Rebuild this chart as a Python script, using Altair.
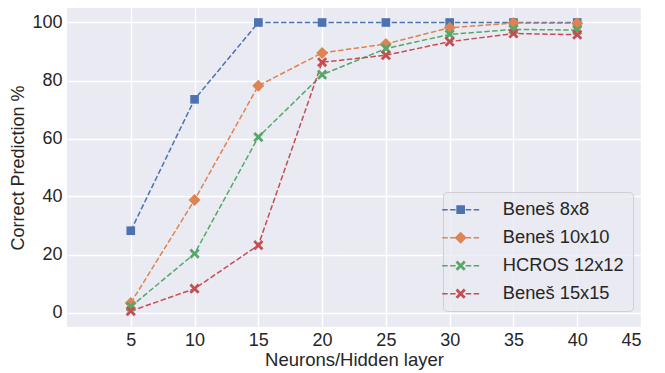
import altair as alt
import pandas as pd

neurons = [5, 10, 15, 20, 25, 30, 35, 40]
series_names = ["Beneš 8x8", "Beneš 10x10", "HCROS 12x12", "Beneš 15x15"]
benes8 = [28.2, 73.5, 100, 100, 100, 100, 100, 100]
benes10 = [3.3, 38.8, 78.2, 89.5, 92.6, 98.2, 99.8, 99.7]
hcros12 = [2.0, 20.3, 60.5, 82.0, 91.0, 95.9, 97.6, 97.4]
benes15 = [0.5, 8.2, 23.2, 86.3, 88.7, 93.4, 96.2, 95.8]
colors = ["#4C72B0", "#DD8452", "#55A868", "#C44E52"]
x_ticks = [5, 10, 15, 20, 25, 30, 35, 40, 45]
y_ticks = [0, 20, 40, 60, 80, 100]

rows = []
for name, vals in zip(series_names, [benes8, benes10, hcros12, benes15]):
    for n, v in zip(neurons, vals):
        rows.append({"neurons": n, "series": name, "value": v})
df = pd.DataFrame(rows)

# marker paths (unit = 6 px at size 144)
sq = "M-0.72,-0.72H0.72V0.72H-0.72Z"
dia = "M0,-1L1,0L0,1L-1,0Z"
e, t = 0.85, 0.33
xm = (f"M{-e},{-(e-t)}L{-(e-t)},{-e}L0,{-t}L{e-t},{-e}L{e},{-(e-t)}L{t},0"
      f"L{e},{e-t}L{e-t},{e}L0,{t}L{-(e-t)},{e}L{-e},{e-t}L{-t},0Z")
marker_paths = [sq, dia, xm, xm]

h = 0.125
dash_spans = [(-3.08, -2.16), (-1.76, -0.84), (0.84, 1.76), (2.16, 3.08)]
dashes = "".join(f"M{a},{-h}H{b}V{h}H{a}Z" for a, b in dash_spans)
legend_paths = [dashes + p for p in marker_paths]

FONT = "Liberation Sans"
TXT = "#262626"

xenc = alt.X("neurons:Q", scale=alt.Scale(domain=[0, 45], nice=False, zero=False),
             axis=alt.Axis(values=x_ticks, title="Neurons/Hidden layer"))
yenc = alt.Y("value:Q", scale=alt.Scale(domain=[-5, 105], nice=False, zero=False),
             axis=alt.Axis(values=y_ticks, title="Correct Prediction %"))

cscale = alt.Scale(domain=series_names, range=colors)

base = alt.Chart(df)

lines = base.mark_line(strokeDash=[5.5, 2.4], strokeWidth=1.5).encode(
    x=xenc, y=yenc,
    color=alt.Color("series:N", scale=cscale, legend=None),
    order=alt.Order("neurons:Q"),
)

points = base.mark_point(filled=True, size=144, opacity=1).encode(
    x=xenc, y=yenc,
    color=alt.Color("series:N", scale=cscale, legend=None),
    shape=alt.Shape("series:N", scale=alt.Scale(domain=series_names, range=marker_paths), legend=None),
)

leg = alt.Legend(
    title=None, orient="none", legendX=376, legendY=184,
    labelFont=FONT, labelFontSize=18.3, labelColor=TXT,
    symbolSize=144, symbolStrokeWidth=0, labelOffset=33,
    rowPadding=9, padding=8.5, cornerRadius=4,
    fillColor="rgba(234,234,242,0.8)", strokeColor="#cfcfd6",
)

legend_layer = base.transform_filter("false").mark_point(filled=True, size=144, opacity=1).encode(
    x=xenc, y=yenc,
    color=alt.Color("series:N", scale=cscale, legend=leg),
    shape=alt.Shape("series:N", scale=alt.Scale(domain=series_names, range=legend_paths), legend=leg),
)

chart = alt.layer(lines, points, legend_layer).resolve_scale(
    color="independent", shape="independent"
).properties(
    width=574, height=319,
    autosize=alt.AutoSizeParams(type="none"),
    padding={"left": 59, "top": 0, "right": 16, "bottom": 46},
    background="white",
).configure_view(
    fill="#EAEAF2", stroke=None
).configure_axis(
    grid=True, gridColor="white", gridWidth=1.4, domain=False, ticks=False,
    labelFont=FONT, labelFontSize=18, labelColor=TXT, labelPadding=5,
    titleFont=FONT, titleFontSize=18, titleColor=TXT, titleFontWeight="normal",
).configure_axisX(titlePadding=1, titleFontSize=18.5, labelPadding=4).configure_axisY(titlePadding=4)

chart.save("out.html", embed_options={"renderer": "svg", "actions": False})
